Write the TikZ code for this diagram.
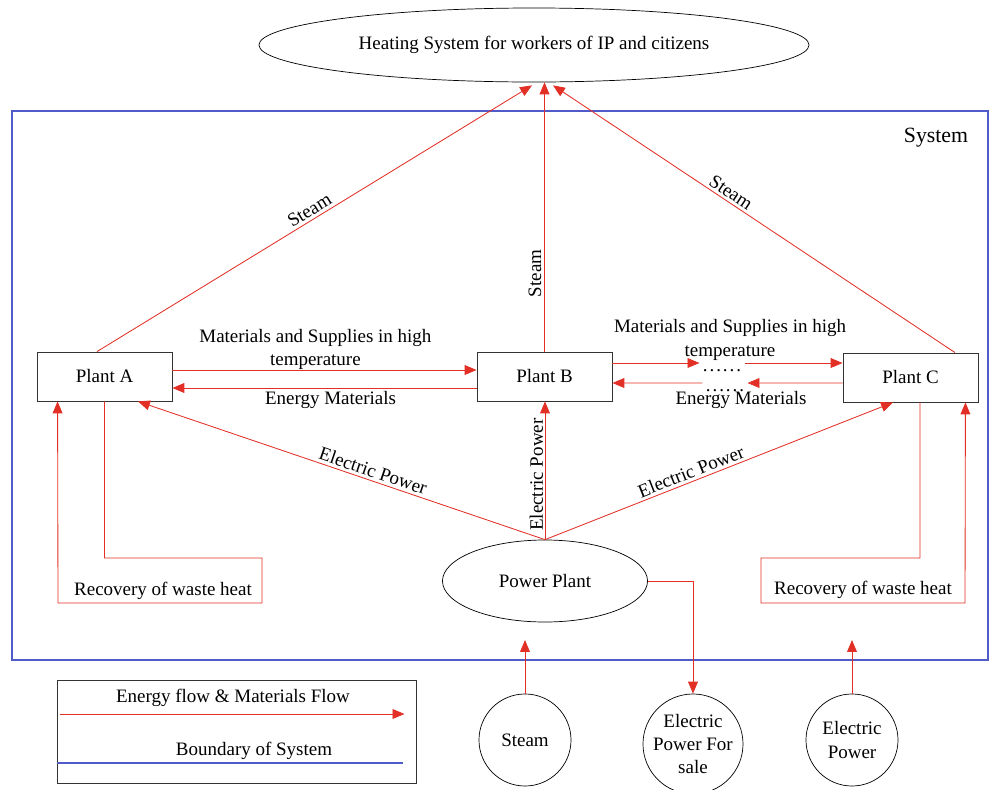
\documentclass[tikz,border=0pt]{standalone}
\usepackage{fontspec}
\setmainfont{Liberation Serif}
\usepackage{xcolor}
\usepackage{tikz}
\usetikzlibrary{shapes.geometric, arrows.meta, positioning, calc}
\definecolor{flowred}{RGB}{226,48,38}
\definecolor{sysblue}{RGB}{80,90,200}
\newcommand{\gapdots}{.\kern1.4pt.\kern1.4pt.\kern1.4pt.\kern1.4pt.\kern1.4pt.}
\tikzset{
  plantbox/.style={
    rectangle, draw=black!80, line width=0.6pt, fill=white,
    minimum width=3.375cm, minimum height=1.225cm, inner sep=2pt
  },
  ovalbox/.style={
    ellipse, draw=black, line width=0.5pt, inner sep=0pt, align=center
  },
  roundbox/.style={
    circle, draw=black, line width=0.5pt, inner sep=0pt,
    minimum size=2.3cm, align=center
  },
  dotsbox/.style={inner xsep=2.2pt, inner ysep=4.2pt, anchor=north},
  flow/.style={-{Triangle[length=8.5pt, width=7pt]}, line width=0.6pt, draw=flowred},
  boundary/.style={line width=0.8pt, draw=sysblue},
  lbl/.style={inner sep=2pt, align=center}
}
\begin{document}
\begin{tikzpicture}[x=0.025cm, y=-0.025cm, font=\fontsize{13.5}{16.5}\selectfont]
\useasboundingbox (0,0) rectangle (989,790);

\draw[boundary] (12,111) rectangle (988,660);
\node[font=\fontsize{15.5}{18}\selectfont] (systemname) at (936,138) {System};

\node[ovalbox, minimum width=13.75cm, minimum height=1.85cm] (heating) at (534,45)
  {Heating System for workers of IP and citizens};

\node[plantbox] (plantA) at (104.5,376.5) {Plant A};
\node[plantbox] (plantB) at (544.5,376.5) {Plant B};
\node[plantbox] (plantC) at (910.5,377.5) {Plant C};
\node[ovalbox, minimum width=5.125cm, minimum height=2.05cm] (power) at (545,581) {Power Plant};

\node[roundbox] (steamIn) at (525,740) {Steam};
\node[roundbox, minimum size=2.5cm, inner sep=-4pt] (saleOut) at (693,744) {Electric\\Power For\\sale};
\node[roundbox] (elecIn) at (852,740) {Electric\\Power};
\coordinate (inTop) at (0,640);

% steam to the heating system
\draw[flow] ($(plantA.north)+(-7.5,0)$) -- node[lbl, sloped, above] {Steam} ($(heating.south)+(-2,3)$);
\draw[flow] (plantB.north) -- node[lbl, sloped, above, pos=0.29] {Steam} (plantB.north |- heating.south);
\draw[flow] ($(plantC.north)+(44.5,0)$) -- node[lbl, sloped, above, pos=0.57] {Steam} ($(heating.south)+(19,3)$);

% exchange between the plants
\draw[flow] ($(plantA.east)+(0,-6.5)$) -- node[lbl, above, inner sep=0pt, pos=0.47]
  {Materials and Supplies in high\\temperature} ($(plantB.west)+(0,-6.5)$);
\draw[flow] ($(plantB.west)+(0,11.5)$) -- node[lbl, below, pos=0.48] {Energy Materials} ($(plantA.east)+(0,11.5)$);

\node[dotsbox] (dotsTop) at (722,363) {\gapdots};
\node[dotsbox] (dotsBot) at (725,383) {\gapdots};
\draw[flow] ($(plantB.east)+(0,-13.5)$) -- (dotsTop.north west);
\draw[flow] (dotsTop.north east) -- ($(plantC.west)+(0,-14.5)$);
\draw[flow] ($(plantC.west)+(0,5.5)$) -- (dotsBot.north east);
\draw[flow] (dotsBot.north west) -- ($(plantB.east)+(0,6.5)$);
\node[lbl] (materialsBC) at (730,340) {Materials and Supplies in high\\temperature};
\node[lbl] (energyBC) at (741,400) {Energy Materials};

% electric power from the power plant
\draw[flow] (power.north) -- node[lbl, sloped, above, pos=0.43] {Electric Power} ($(plantA.south)+(33.5,0)$);
\draw[flow] (power.north) -- node[lbl, sloped, above, inner sep=1pt, pos=0.47] {Electric Power} (power.north |- plantB.south);
\draw[flow] (power.north) -- node[lbl, sloped, above, pos=0.43] {Electric Power} ($(plantC.south)+(-17.5,0)$);

% recovery of waste heat
\draw[flow] (plantA.south) |- (262,558) |- (58,603) -- ($(plantA.south west)+(21,0)$);
\node[lbl] (wasteA) at (163,591) {Recovery of waste heat};
\draw[flow] ($(plantC.south)+(9.5,0)$) |- (761,558) |- (965,603) -- ($(plantC.south east)+(-13,0)$);
\node[lbl] (wasteC) at (863,590) {Recovery of waste heat};

% flows across the boundary
\draw[flow] (power.east) -| (saleOut.north);
\draw[flow] (steamIn.north) -- (steamIn.north |- inTop);
\draw[flow] (elecIn.north) -- (elecIn.north |- inTop);

% legend
\node[rectangle, draw=black!80, line width=0.6pt, minimum width=8.975cm, minimum height=2.575cm] (legend) at (236.5,731.5) {};
\node[lbl] (legendFlow) at (233,698) {Energy flow \& Materials Flow};
\draw[flow] ($(legend.west)+(3,-17.5)$) -- ($(legend.east)+(-12,-17.5)$);
\node[lbl] (legendBound) at (254,751) {Boundary of System};
\draw[boundary] ($(legend.west)+(0,31.5)$) -- ($(legend.east)+(-13,31.5)$);

\end{tikzpicture}
\end{document}
